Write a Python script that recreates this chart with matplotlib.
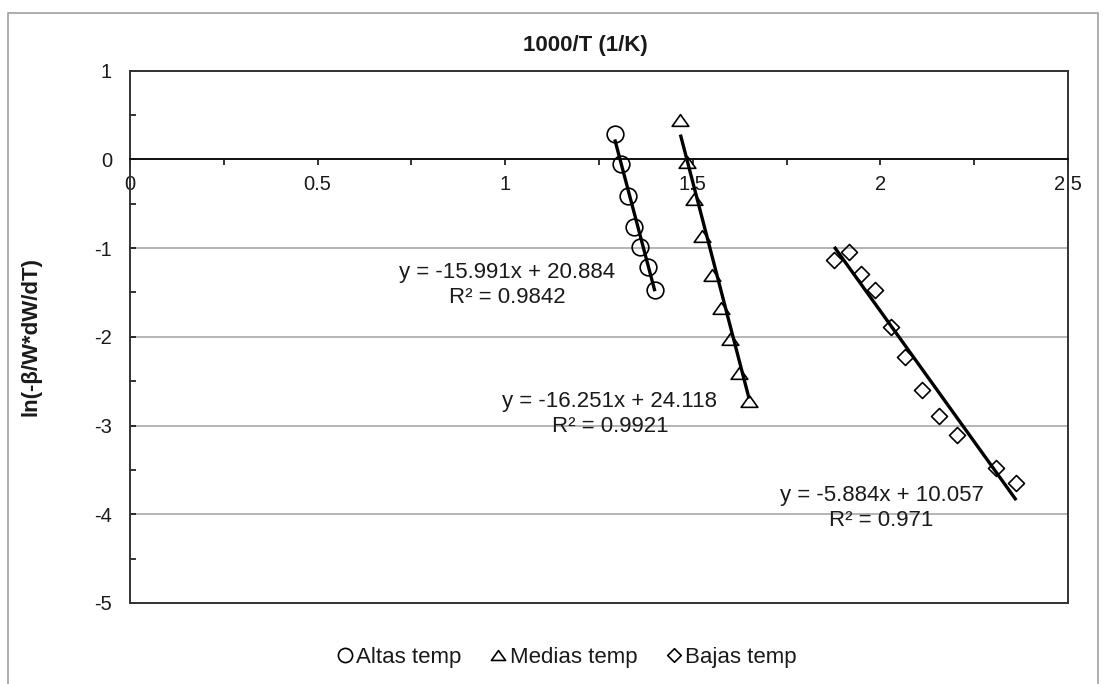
import matplotlib
matplotlib.use('Agg')
import matplotlib.pyplot as plt
import matplotlib.patches as mpatches
from matplotlib.path import Path
from matplotlib.ticker import MultipleLocator, FuncFormatter
import numpy as np

plt.rcParams['font.family'] = ['Liberation Sans', 'DejaVu Sans']
plt.rcParams['axes.unicode_minus'] = False

# values
altas_x = [1.292, 1.308, 1.327, 1.343, 1.358, 1.380, 1.399]
altas_y = [0.28, -0.05, -0.41, -0.76, -0.99, -1.21, -1.47]

medias_x = [1.467, 1.485, 1.503, 1.525, 1.550, 1.574, 1.598, 1.622, 1.650]
medias_y = [0.44, -0.03, -0.45, -0.87, -1.30, -1.68, -2.02, -2.41, -2.72]

bajas_x = [1.877, 1.915, 1.948, 1.986, 2.027, 2.066, 2.112, 2.157, 2.205, 2.309, 2.362]
bajas_y = [-1.13, -1.05, -1.29, -1.47, -1.89, -2.23, -2.60, -2.89, -3.11, -3.48, -3.65]

series_names = ['Altas temp', 'Medias temp', 'Bajas temp']

# linear trendlines as shown on the chart
fit_slope = [-15.991, -16.251, -5.884]
fit_icpt = [20.884, 24.118, 10.057]
fit_r2 = ['0.9842', '0.9921', '0.971']

TXT = '#1a1a1a'
W, H = 1106, 684

# excel-like marker shapes
tri = Path([(-1, -0.7), (1, -0.7), (0, 0.7), (-1, -0.7)],
           [Path.MOVETO, Path.LINETO, Path.LINETO, Path.CLOSEPOLY])
dia = Path([(0, 1), (1, 0), (0, -1), (-1, 0), (0, 1)],
           [Path.MOVETO, Path.LINETO, Path.LINETO, Path.LINETO, Path.CLOSEPOLY])

fig = plt.figure(figsize=(W / 100, H / 100), dpi=100)
ax = fig.add_axes([130 / W, 1 - 603 / H, 938 / W, 532.5 / H])
ax.set_xlim(0, 2.5)
ax.set_ylim(-5, 1)

# gridlines
ax.yaxis.grid(True, which='major', color='#a0a0a0', lw=1.1, zorder=0)
ax.set_axisbelow(True)

# data + trendlines
xs_all = [altas_x, medias_x, bajas_x]
ys_all = [altas_y, medias_y, bajas_y]
markers = ['o', tri, dia]
msizes = [12, 12, 11.5]
handles = []
for i in range(3):
    h, = ax.plot(xs_all[i], ys_all[i], linestyle='none', marker=markers[i],
                 ms=msizes[i], mfc='none', mec='black', mew=1.2,
                 label=series_names[i], zorder=3)
    handles.append(h)
    xx = np.array([min(xs_all[i]), max(xs_all[i])])
    ax.plot(xx, fit_slope[i] * xx + fit_icpt[i], color='black', lw=2.4,
            solid_capstyle='butt', zorder=4)

# equation labels (data coords)
lab_pos = [(1.005, -1.42), (1.279, -2.87), (2.003, -3.93)]
for i in range(3):
    eq = f'y = {fit_slope[i]}x + {fit_icpt[i]}\nR² = {fit_r2[i]}'
    ax.text(lab_pos[i][0], lab_pos[i][1], eq, ha='center', va='center',
            fontsize=16, color=TXT, linespacing=1.25, zorder=5)

# axes: x axis crosses at y=0, frame around the plot area
for s in ['left', 'right', 'top']:
    ax.spines[s].set_color('#333333')
    ax.spines[s].set_linewidth(1.4)
ax.spines['bottom'].set_position(('data', 0))
ax.spines['bottom'].set_color('#111111')
ax.spines['bottom'].set_linewidth(1.4)
ax.axhline(-5, color='#333333', lw=1.4, clip_on=False, zorder=2)

ax.xaxis.set_major_locator(MultipleLocator(0.5))
ax.xaxis.set_minor_locator(MultipleLocator(0.25))
ax.xaxis.set_major_formatter(FuncFormatter(lambda v, p: f'{v:g}'))
ax.tick_params(axis='x', which='both', direction='out', length=4, width=1.2,
               color='#111111', labelsize=14.5, labelcolor=TXT, pad=7)

ax.yaxis.set_major_locator(MultipleLocator(1))
ax.yaxis.set_minor_locator(MultipleLocator(0.5))
ax.yaxis.set_major_formatter(FuncFormatter(lambda v, p: f'{v:g}'))
ax.tick_params(axis='y', which='both', direction='in', length=4, width=1.2,
               color='#111111', labelsize=14.5, labelcolor=TXT, pad=13)

# titles
fig.text(585 / W, 1 - 45 / H, '1000/T (1/K)', ha='center', va='center',
         fontsize=16, fontweight='bold', color=TXT)
fig.text(31 / W, 1 - 336 / H, 'ln(-β/W*dW/dT)', ha='center', va='center',
         rotation=90, fontsize=16, fontweight='bold', color=TXT)

# legend
ax.legend(handles=handles, loc='center', bbox_to_anchor=(567 / W, 1 - 657 / H),
          bbox_transform=fig.transFigure, ncol=3, frameon=False, fontsize=16,
          handlelength=0.7, handletextpad=0.15, columnspacing=1.3,
          markerscale=0.85, labelcolor=TXT)

# chart area border
fig.patches.append(mpatches.Rectangle((8 / W, -0.1), 1090 / W, 1.1 - 13 / H,
                                      transform=fig.transFigure, fill=False,
                                      edgecolor='#999999', lw=1.1))

fig.savefig('out.png', dpi=100)
